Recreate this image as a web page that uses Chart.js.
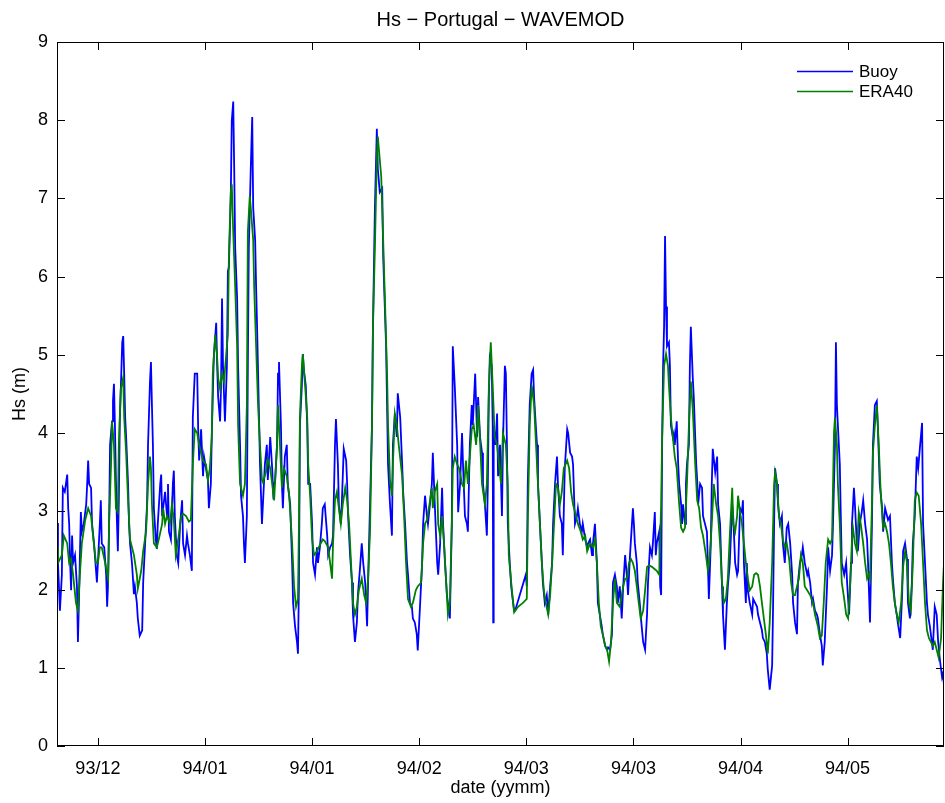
<!DOCTYPE html>
<html><head><meta charset="utf-8">
<script src="https://cdn.jsdelivr.net/npm/chart.js@4/dist/chart.umd.min.js"></script>
<style>html,body{margin:0;padding:0;background:#fff;}canvas{display:block;}</style>
</head><body>
<canvas id="c" width="945" height="803"></canvas>
<script>
const chartTitle = 'Hs \u2212 Portugal \u2212 WAVEMOD';
const xAxisTitle = 'date (yymm)';
const yAxisTitle = 'Hs (m)';
const seriesNames = ['Buoy', 'ERA40'];
const seriesColors = ['#0000ff', '#008000'];
// x positions in days since start of record
const xRange = [0, 182.2];
const tickDays = [8.4, 30.4, 52.4, 74.4, 96.4, 118.4, 140.4, 162.4];
const tickLabels = ['93/12','94/01','94/01','94/02','94/03','94/03','94/04','94/05'];
const yRange = [0, 9];

const buoyObs = [[0.0,2.85],[0.2,2.34],[0.6,1.73],[1.0,2.19],[1.2,3.30],[1.6,3.25],[2.1,3.47],[2.3,3.04],[2.5,2.84],[2.7,2.34],[2.9,1.99],[3.1,2.69],[3.3,2.34],[3.7,2.44],[4.1,2.04],[4.3,1.33],[4.5,1.83],[4.9,2.99],[5.1,2.74],[5.5,2.84],[6.0,3.09],[6.2,3.35],[6.4,3.65],[6.6,3.35],[7.0,3.30],[7.2,2.84],[7.6,2.59],[8.2,2.09],[8.4,2.34],[8.8,2.84],[9.0,3.14],[9.2,2.59],[9.7,2.54],[10.1,2.19],[10.3,1.78],[10.5,2.09],[10.7,2.84],[10.9,3.85],[11.3,4.15],[11.5,4.41],[11.7,4.63],[11.9,4.10],[12.1,3.40],[12.3,2.89],[12.5,2.49],[12.7,3.14],[12.9,4.15],[13.4,5.16],[13.6,5.24],[13.8,4.76],[14.0,4.20],[14.2,3.95],[14.6,3.35],[14.8,2.84],[15.0,2.59],[15.4,2.34],[15.8,1.94],[16.0,2.04],[16.4,1.83],[16.6,1.63],[17.0,1.41],[17.5,1.48],[17.7,2.09],[18.1,2.59],[18.5,3.09],[18.7,3.85],[19.1,4.66],[19.3,4.91],[19.5,4.36],[19.7,3.85],[19.9,3.04],[20.3,2.64],[20.5,2.52],[20.7,2.84],[21.2,3.35],[21.4,3.47],[21.6,2.94],[21.8,3.04],[22.2,3.25],[22.6,2.94],[22.8,3.35],[23.0,2.74],[23.4,2.64],[23.8,3.35],[24.0,3.52],[24.2,2.94],[24.6,2.44],[24.9,2.34],[25.3,2.84],[25.7,3.14],[25.9,2.59],[26.3,2.44],[26.7,2.69],[26.9,2.59],[27.3,2.44],[27.7,2.24],[27.9,4.20],[28.3,4.76],[28.8,4.76],[29.0,4.05],[29.2,3.65],[29.6,4.05],[30.0,3.45],[30.2,3.70],[30.6,3.55],[31.0,3.40],[31.2,3.04],[31.6,3.35],[31.8,4.00],[32.2,4.96],[32.7,5.41],[32.9,4.86],[33.1,4.46],[33.5,4.15],[33.7,4.61],[33.9,5.72],[34.1,4.86],[34.5,4.15],[34.9,4.86],[35.1,6.07],[35.3,6.12],[35.7,7.03],[35.9,7.99],[36.2,8.24],[36.4,7.38],[36.6,6.37],[37.0,5.72],[37.2,4.86],[37.6,3.85],[37.8,3.20],[38.2,2.94],[38.4,2.59],[38.6,2.34],[39.0,2.94],[39.2,4.86],[39.4,6.37],[39.8,7.38],[40.1,8.04],[40.3,6.88],[40.7,6.47],[40.9,5.87],[41.1,5.36],[41.5,4.20],[41.7,3.60],[42.1,2.84],[42.3,3.09],[42.7,3.60],[43.1,3.85],[43.3,3.40],[43.8,3.95],[44.2,3.55],[44.4,3.25],[44.8,3.40],[45.2,3.85],[45.4,4.76],[45.6,4.91],[46.0,4.10],[46.2,3.35],[46.4,3.04],[46.8,3.70],[47.2,3.85],[47.4,3.35],[47.9,3.09],[48.3,2.34],[48.5,1.83],[48.9,1.53],[49.3,1.33],[49.5,1.18],[49.7,2.09],[49.9,4.10],[50.3,4.61],[50.5,5.01],[50.7,4.81],[51.1,4.61],[51.4,4.10],[51.6,3.35],[52.0,3.35],[52.4,2.84],[52.6,2.34],[53.0,2.19],[53.4,2.54],[53.6,2.34],[54.0,2.54],[54.4,2.84],[54.6,3.04],[55.0,3.09],[55.5,2.69],[55.7,2.44],[56.1,2.54],[56.5,2.59],[56.7,2.69],[57.1,3.85],[57.3,4.18],[57.7,3.60],[57.9,3.09],[58.3,2.84],[58.5,3.09],[58.9,3.80],[59.4,3.65],[59.6,3.35],[59.8,2.94],[60.2,2.44],[60.6,2.09],[60.8,1.68],[61.2,1.33],[61.6,1.58],[61.8,1.93],[62.2,2.24],[62.6,2.59],[62.9,2.34],[63.3,2.09],[63.7,1.53],[63.9,2.09],[64.3,3.09],[64.7,4.10],[64.9,5.36],[65.3,6.88],[65.7,7.89],[65.9,7.38],[66.3,7.08],[66.8,7.13],[67.0,6.27],[67.2,5.87],[67.6,5.11],[67.8,4.36],[68.0,3.60],[68.4,3.09],[68.8,2.69],[69.0,3.85],[69.4,4.25],[69.8,3.95],[70.0,4.51],[70.5,4.20],[70.9,3.60],[71.1,3.25],[71.5,2.84],[71.9,2.34],[72.1,2.19],[72.5,1.83],[72.9,1.78],[73.1,1.63],[73.5,1.58],[73.9,1.43],[74.1,1.22],[74.6,1.83],[75.0,2.34],[75.2,2.84],[75.6,3.20],[76.0,2.94],[76.2,2.84],[76.6,3.09],[77.0,3.35],[77.2,3.75],[77.6,3.09],[78.1,2.34],[78.3,2.19],[78.7,2.59],[79.1,3.30],[79.3,2.84],[79.7,2.34],[80.1,1.93],[80.3,1.83],[80.7,1.63],[81.1,2.84],[81.3,5.11],[81.7,4.61],[82.2,3.85],[82.4,2.99],[82.8,3.35],[83.2,4.00],[83.4,3.60],[83.8,2.94],[84.2,2.84],[84.4,2.74],[84.8,3.85],[85.2,4.36],[85.4,4.10],[85.9,4.76],[86.3,3.95],[86.5,4.46],[86.9,3.95],[87.3,3.75],[87.5,3.35],[87.9,3.09],[88.3,2.69],[88.5,3.35],[88.7,4.46],[88.9,4.96],[89.3,4.86],[89.5,4.10],[89.6,1.58],[89.7,4.10],[90.1,3.85],[90.4,4.25],[90.6,3.45],[91.0,3.85],[91.4,2.94],[91.6,3.85],[92.0,4.86],[92.2,4.76],[92.4,3.95],[92.6,2.84],[93.0,2.34],[93.3,2.04],[93.5,1.93],[93.9,1.73],[94.1,1.73],[96.3,2.19],[96.5,2.04],[96.7,3.35],[97.1,4.36],[97.5,4.76],[97.8,4.81],[98.0,4.46],[98.4,4.05],[98.6,3.85],[98.8,3.35],[99.2,2.84],[99.6,2.34],[99.8,2.09],[100.2,1.83],[100.6,1.93],[100.9,1.68],[101.3,2.04],[101.7,2.34],[101.9,2.84],[102.3,3.35],[102.7,3.70],[102.9,3.35],[103.3,2.94],[103.7,2.84],[103.9,2.44],[104.3,3.55],[104.8,4.05],[105.0,4.00],[105.4,3.75],[105.8,3.70],[106.0,3.60],[106.4,2.84],[106.8,2.94],[107.0,3.04],[107.4,2.84],[107.8,2.74],[108.0,2.84],[108.5,2.64],[108.9,2.54],[109.1,2.59],[109.5,2.64],[109.9,2.44],[110.1,2.59],[110.5,2.84],[110.9,2.34],[111.1,1.83],[111.5,1.68],[111.9,1.53],[112.1,1.43],[112.6,1.28],[113.0,1.23],[113.2,1.26],[113.6,1.23],[114.0,1.43],[114.2,2.09],[114.6,2.19],[115.0,2.04],[115.2,1.83],[115.6,2.04],[116.0,1.63],[116.3,2.04],[116.7,2.44],[117.1,2.14],[117.3,1.93],[117.7,2.44],[118.1,2.84],[118.3,3.04],[118.5,2.84],[118.7,2.59],[119.1,2.34],[119.3,2.09],[119.7,1.83],[120.1,1.53],[120.4,1.33],[120.8,1.23],[121.2,1.68],[121.4,2.09],[121.8,2.54],[122.2,2.44],[122.4,2.59],[122.8,2.99],[123.0,2.44],[123.2,2.59],[123.7,2.74],[123.9,2.04],[124.1,1.93],[124.3,3.85],[124.5,4.86],[124.7,5.36],[124.9,6.52],[125.1,5.62],[125.3,5.11],[125.7,5.16],[125.9,4.86],[126.1,4.10],[126.5,3.95],[126.7,4.00],[126.9,3.85],[127.3,4.15],[127.6,3.60],[127.8,3.35],[128.2,3.09],[128.4,2.84],[128.6,3.09],[129.0,2.84],[129.2,3.35],[129.4,3.60],[129.8,3.85],[130.0,4.86],[130.2,5.36],[130.6,4.70],[130.8,4.46],[131.3,3.60],[131.5,3.40],[131.7,3.09],[132.1,3.35],[132.5,3.30],[132.7,2.94],[133.1,2.84],[133.5,2.74],[133.7,2.34],[133.9,1.88],[134.3,2.59],[134.5,3.35],[134.7,3.80],[135.2,3.50],[135.6,3.70],[135.8,3.09],[136.2,2.84],[136.6,2.04],[136.8,1.68],[137.2,1.23],[137.6,1.83],[137.8,2.04],[138.2,2.34],[138.7,3.09],[138.9,2.94],[139.3,2.34],[139.7,2.19],[139.9,2.24],[140.3,3.04],[140.7,2.99],[140.9,3.14],[141.1,2.34],[141.5,1.83],[141.7,2.34],[141.9,1.99],[142.3,1.83],[142.8,1.68],[143.0,1.88],[143.4,1.83],[143.8,1.78],[144.0,1.68],[144.4,1.58],[144.8,1.48],[145.0,1.38],[145.4,1.33],[145.8,1.18],[146.0,0.98],[146.4,0.72],[146.9,1.03],[147.1,1.83],[147.3,2.84],[147.5,3.55],[147.9,3.35],[148.1,3.09],[148.5,2.84],[148.9,2.94],[149.1,2.59],[149.5,2.34],[149.9,2.79],[150.2,2.84],[150.6,2.59],[151.0,2.20],[151.2,1.83],[151.6,1.58],[152.0,1.43],[152.2,2.09],[152.6,2.34],[153.0,2.44],[153.2,2.54],[153.6,2.34],[154.1,2.19],[154.3,2.24],[154.7,2.09],[155.1,1.83],[155.3,1.88],[155.7,1.73],[156.1,1.68],[156.3,1.63],[156.7,1.43],[157.1,1.28],[157.3,1.03],[157.7,1.33],[158.2,2.09],[158.4,2.54],[158.8,2.24],[159.2,2.44],[159.4,2.84],[159.8,3.85],[160.0,5.16],[160.2,4.36],[160.4,4.10],[160.8,3.60],[161.0,2.94],[161.2,2.34],[161.7,2.19],[162.1,2.34],[162.3,2.09],[162.7,1.68],[163.1,2.34],[163.3,2.84],[163.7,3.30],[163.9,3.09],[164.3,2.59],[164.5,2.49],[164.9,2.84],[165.3,2.99],[165.6,3.14],[166.0,2.84],[166.4,2.64],[166.6,2.34],[167.0,1.58],[167.4,2.84],[167.6,3.85],[168.0,4.36],[168.4,4.41],[168.6,4.10],[169.0,3.35],[169.5,3.04],[169.7,2.74],[170.1,3.04],[170.5,2.94],[170.7,2.89],[171.1,2.94],[171.5,2.34],[171.7,2.14],[172.1,1.83],[172.5,1.68],[172.7,1.58],[173.2,1.38],[173.6,1.93],[173.8,2.49],[174.2,2.59],[174.6,2.39],[174.8,1.83],[175.2,1.63],[175.6,2.09],[175.8,2.59],[176.2,2.94],[176.6,3.70],[176.9,3.55],[177.3,3.85],[177.7,4.13],[177.9,2.84],[178.3,2.34],[178.7,1.83],[178.9,1.68],[179.3,1.53],[179.7,1.33],[179.9,1.23],[180.3,1.78],[180.7,1.68],[181.0,1.33],[181.4,1.08],[181.8,0.88],[182.0,0.93],[182.2,0.77]];

const era40Obs = [[0.0,2.54],[0.2,2.34],[1.0,2.44],[1.4,2.69],[2.1,2.59],[2.5,2.34],[2.9,2.39],[3.3,2.19],[3.9,1.83],[4.3,1.73],[4.7,2.19],[5.1,2.59],[5.8,2.89],[6.4,3.04],[7.0,2.94],[7.4,2.69],[8.0,2.34],[8.4,2.34],[8.8,2.54],[9.2,2.54],[9.9,2.34],[10.5,2.14],[10.7,2.84],[11.1,3.60],[11.3,4.15],[11.7,3.85],[12.1,3.04],[12.5,2.99],[12.7,3.85],[13.1,4.56],[13.6,4.71],[13.8,4.20],[14.2,3.75],[14.6,3.14],[15.0,2.64],[15.4,2.54],[15.8,2.44],[16.4,2.19],[16.6,2.01],[17.3,2.24],[17.7,2.49],[18.3,2.74],[18.7,3.35],[19.1,3.70],[19.3,3.55],[19.5,3.09],[19.9,2.59],[20.5,2.54],[20.9,2.64],[21.6,2.84],[21.8,3.04],[22.2,2.84],[22.6,2.94],[23.2,2.84],[23.6,3.09],[24.0,2.89],[24.4,2.44],[24.9,2.64],[25.5,2.94],[25.9,2.97],[26.5,2.94],[27.1,2.87],[27.5,2.89],[27.9,3.60],[28.3,4.05],[28.8,4.00],[29.2,3.85],[29.6,3.75],[30.0,3.65],[30.6,3.60],[31.0,3.40],[31.4,3.55],[31.8,3.95],[32.0,4.76],[32.5,5.26],[32.9,4.96],[33.1,4.71],[33.5,4.56],[33.9,4.76],[34.3,4.66],[34.7,4.96],[35.1,5.26],[35.3,6.22],[35.7,7.08],[35.9,7.18],[36.2,6.57],[36.6,5.87],[37.0,5.11],[37.2,4.10],[37.6,3.35],[38.0,3.25],[38.2,3.20],[38.6,3.35],[39.0,4.36],[39.2,6.57],[39.6,7.03],[39.8,6.88],[40.3,6.47],[40.5,5.87],[40.9,5.11],[41.3,4.36],[41.7,3.85],[42.1,3.40],[42.3,3.37],[42.9,3.50],[43.3,3.67],[43.8,3.55],[44.2,3.35],[44.6,3.14],[45.2,3.85],[45.4,4.36],[45.8,3.85],[46.2,3.30],[46.6,3.55],[47.2,3.45],[47.7,3.20],[48.3,2.59],[48.7,2.04],[49.1,1.78],[49.5,1.88],[49.7,2.84],[49.9,4.20],[50.3,4.86],[50.5,5.01],[50.9,4.66],[51.4,4.20],[51.6,3.60],[52.0,3.20],[52.4,2.64],[52.8,2.44],[53.4,2.49],[54.0,2.57],[54.6,2.64],[55.0,2.62],[55.7,2.54],[56.1,2.34],[56.5,2.14],[56.7,2.59],[57.1,3.14],[57.5,3.25],[57.9,3.04],[58.3,2.84],[58.7,3.09],[59.2,3.30],[59.6,3.14],[60.0,2.84],[60.4,2.34],[60.8,1.83],[61.2,1.68],[61.6,1.78],[62.0,1.99],[62.6,2.14],[63.1,1.93],[63.5,1.83],[63.9,2.14],[64.3,2.74],[64.7,4.10],[64.9,5.36],[65.3,6.37],[65.7,7.53],[65.9,7.79],[66.3,7.50],[66.6,7.28],[67.0,6.47],[67.4,5.62],[67.8,4.76],[68.0,4.10],[68.4,3.40],[68.8,3.20],[69.0,3.60],[69.4,4.25],[69.8,4.10],[70.2,3.85],[70.9,3.45],[71.3,2.94],[71.7,2.34],[72.1,1.88],[72.7,1.78],[73.1,1.83],[73.7,1.99],[74.1,2.04],[74.8,2.09],[75.2,2.59],[75.6,2.84],[76.0,2.89],[76.4,3.04],[77.0,3.30],[77.2,3.04],[77.6,3.25],[78.1,3.35],[78.3,2.84],[78.7,2.69],[79.1,2.94],[79.5,2.59],[79.9,2.14],[80.3,1.68],[80.7,1.83],[81.1,2.84],[81.3,3.55],[81.7,3.70],[82.2,3.60],[82.6,3.55],[83.2,3.35],[83.6,3.30],[84.0,3.65],[84.4,3.35],[84.8,3.70],[85.2,4.05],[85.6,4.10],[86.1,3.85],[86.5,4.36],[86.9,3.90],[87.3,3.35],[87.9,3.09],[88.3,3.35],[88.7,4.56],[89.1,5.16],[89.5,4.61],[89.9,3.95],[90.4,3.85],[90.8,3.60],[91.2,3.35],[91.6,4.00],[92.2,3.85],[92.6,3.35],[92.8,2.44],[93.3,2.09],[93.7,1.83],[93.9,1.71],[94.7,1.78],[95.7,1.83],[96.5,1.88],[96.7,2.84],[97.1,4.10],[97.5,4.61],[98.0,4.36],[98.4,3.85],[98.8,3.35],[99.2,2.84],[99.6,2.34],[100.0,1.99],[100.4,1.83],[100.9,1.68],[101.3,1.93],[101.7,2.34],[102.1,2.84],[102.5,3.35],[102.9,3.30],[103.3,3.09],[103.7,3.25],[104.1,3.55],[104.8,3.65],[105.2,3.55],[105.6,3.25],[106.0,3.09],[106.6,2.94],[107.0,2.84],[107.6,2.74],[108.0,2.64],[108.5,2.69],[108.9,2.49],[109.5,2.59],[110.1,2.54],[110.5,2.64],[110.9,2.34],[111.3,1.83],[111.7,1.53],[112.1,1.43],[112.6,1.28],[113.0,1.23],[113.4,1.08],[113.8,1.33],[114.2,1.83],[114.6,2.14],[115.0,1.83],[115.6,1.78],[116.3,2.04],[116.7,2.14],[117.1,2.14],[117.5,2.34],[117.9,2.39],[118.3,2.34],[118.7,2.24],[119.1,2.04],[119.5,1.83],[119.9,1.63],[120.4,1.73],[120.8,1.99],[121.2,2.29],[121.6,2.31],[122.2,2.29],[122.8,2.26],[123.2,2.24],[123.7,2.19],[124.1,3.09],[124.3,3.95],[124.7,4.86],[125.1,5.01],[125.5,4.86],[125.7,4.61],[126.1,4.20],[126.5,3.95],[126.9,3.70],[127.3,3.55],[127.8,3.09],[128.2,2.79],[128.6,2.74],[129.0,2.79],[129.4,3.35],[129.8,4.10],[130.2,4.66],[130.6,4.30],[131.1,3.60],[131.5,3.14],[131.9,3.04],[132.3,2.79],[132.7,2.69],[133.3,2.44],[133.7,2.24],[134.1,2.44],[134.5,2.84],[134.9,3.35],[135.4,3.09],[135.8,2.94],[136.2,2.59],[136.6,2.09],[137.0,1.83],[137.4,1.88],[137.8,2.14],[138.2,2.69],[138.7,3.30],[138.9,2.84],[139.3,2.74],[139.7,2.94],[139.9,3.20],[140.3,2.99],[140.7,2.84],[141.1,2.59],[141.5,2.34],[141.9,2.14],[142.3,1.99],[142.8,2.04],[143.2,2.19],[143.6,2.21],[144.0,2.19],[144.4,2.04],[144.8,1.83],[145.2,1.63],[145.6,1.43],[146.0,1.18],[146.4,1.58],[146.9,2.34],[147.3,3.35],[147.5,3.50],[147.9,3.35],[148.3,2.94],[148.7,2.84],[149.1,2.64],[149.5,2.54],[149.9,2.59],[150.4,2.39],[150.8,2.09],[151.2,1.93],[151.6,1.93],[152.0,2.04],[152.4,2.14],[152.8,2.44],[153.2,2.34],[153.6,2.04],[154.1,1.99],[154.7,1.93],[155.3,1.83],[155.7,1.68],[156.3,1.53],[156.7,1.38],[157.1,1.41],[157.5,1.83],[157.9,2.34],[158.4,2.64],[158.8,2.59],[159.2,2.64],[159.6,4.00],[159.8,4.20],[160.2,3.85],[160.4,3.35],[160.8,2.84],[161.2,2.09],[161.7,1.88],[162.1,1.68],[162.5,1.63],[162.9,2.04],[163.3,2.64],[163.5,2.79],[163.9,2.59],[164.3,2.49],[164.7,2.99],[165.1,2.84],[165.6,2.59],[166.0,2.34],[166.4,2.14],[166.8,2.20],[167.0,2.14],[167.4,3.09],[167.6,3.75],[168.0,4.10],[168.4,4.36],[168.8,3.85],[169.2,3.24],[169.7,2.79],[170.1,2.84],[170.5,2.74],[170.9,2.59],[171.3,2.34],[171.7,2.04],[172.1,1.83],[172.5,1.68],[172.9,1.58],[173.4,1.83],[173.8,2.29],[174.2,2.49],[174.6,2.34],[175.0,1.83],[175.4,1.73],[175.8,2.34],[176.2,3.14],[176.6,3.24],[177.0,3.20],[177.5,2.84],[177.9,2.34],[178.3,1.83],[178.7,1.48],[179.1,1.38],[179.5,1.33],[179.9,1.28],[180.3,1.33],[180.7,1.23],[181.1,1.13],[181.6,1.38],[182.0,2.09],[182.2,2.34]];

const FONT = 'Liberation Sans, Arial, Helvetica, sans-serif';

const matlabFrame = {
  id: 'matlabFrame',
  afterDatasetsDraw(chart) {
    const {ctx, chartArea: a, scales: {x, y}} = chart;
    const L = 8;
    ctx.save();
    ctx.strokeStyle = '#000';
    ctx.lineWidth = 1;
    ctx.beginPath();
    y.ticks.forEach(t => {
      const py = Math.round(y.getPixelForValue(t.value)) + 0.5;
      ctx.moveTo(a.left, py); ctx.lineTo(a.left + L, py);
      ctx.moveTo(a.right, py); ctx.lineTo(a.right - L, py);
    });
    x.ticks.forEach(t => {
      const px = Math.round(x.getPixelForValue(t.value)) + 0.5;
      ctx.moveTo(px, a.bottom); ctx.lineTo(px, a.bottom - L);
      ctx.moveTo(px, a.top); ctx.lineTo(px, a.top + L);
    });
    ctx.stroke();
    ctx.strokeRect(Math.round(a.left) + 0.5, Math.round(a.top) + 0.5,
                   Math.round(a.right - a.left) - 1, Math.round(a.bottom - a.top) - 1);
    ctx.restore();
  }
};

const innerLegend = {
  id: 'innerLegend',
  afterDraw(chart) {
    const {ctx, chartArea: a} = chart;
    ctx.save();
    ctx.font = '17px ' + FONT;
    ctx.textBaseline = 'middle';
    ctx.textAlign = 'left';
    chart.data.datasets.forEach((ds, i) => {
      const yy = a.top + 29 + i * 20;
      const x0 = a.right - 147;
      ctx.strokeStyle = ds.borderColor;
      ctx.lineWidth = 1.3;
      ctx.beginPath();
      ctx.moveTo(x0, yy + 0.5); ctx.lineTo(x0 + 56, yy + 0.5);
      ctx.stroke();
      ctx.fillStyle = '#000';
      ctx.fillText(ds.label, x0 + 62, yy + 1);
    });
    ctx.restore();
  }
};

new Chart(document.getElementById('c'), {
  type: 'line',
  data: {
    datasets: [
      { label: seriesNames[0], data: buoyObs.map(p => ({x: p[0], y: p[1]})),
        borderColor: seriesColors[0], borderWidth: 1.8, pointRadius: 0, tension: 0, order: 1 },
      { label: seriesNames[1], data: era40Obs.map(p => ({x: p[0], y: p[1]})),
        borderColor: seriesColors[1], borderWidth: 1.8, pointRadius: 0, tension: 0, order: 0 }
    ]
  },
  options: {
    responsive: false,
    animation: false,
    devicePixelRatio: 1,
    layout: { padding: { left: 0, right: 1, top: 0, bottom: 0 } },
    plugins: {
      legend: { display: false },
      tooltip: { enabled: false },
      title: {
        display: true, text: chartTitle, fullSize: false, color: '#000',
        font: { family: FONT, size: 20, weight: 'normal' },
        padding: { top: 8, bottom: 10 }
      }
    },
    scales: {
      x: {
        type: 'linear', min: xRange[0], max: xRange[1],
        grid: { display: false, drawTicks: false }, border: { display: false },
        afterBuildTicks: s => { s.ticks = tickDays.map(v => ({ value: v })); },
        afterFit: s => { s.height = 57; },
        ticks: {
          color: '#000', padding: 12, maxRotation: 0, autoSkip: false,
          font: { family: FONT, size: 18 },
          callback: (v, i) => tickLabels[i]
        },
        title: { display: true, text: xAxisTitle, color: '#000',
          font: { family: FONT, size: 18 }, padding: { top: 4, bottom: 4 } }
      },
      y: {
        min: yRange[0], max: yRange[1],
        grid: { display: false, drawTicks: false }, border: { display: false },
        afterFit: s => { s.width = 57; },
        ticks: { stepSize: 1, color: '#000', padding: 9, font: { family: FONT, size: 18 } },
        title: { display: true, text: yAxisTitle, color: '#000',
          font: { family: FONT, size: 18 }, padding: { top: 9, bottom: 4 } }
      }
    }
  },
  plugins: [matlabFrame, innerLegend]
});
</script>
</body></html>
